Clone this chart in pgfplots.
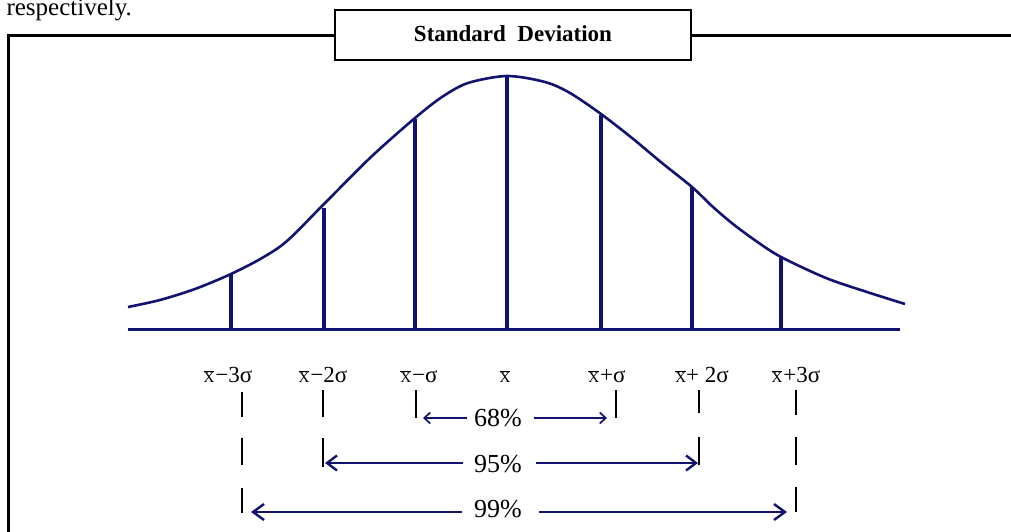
\documentclass[border=0pt]{standalone}
\usepackage{fontspec}
\setmainfont{Liberation Serif}
\usepackage{pgfplots}
\pgfplotsset{compat=1.18}
\usetikzlibrary{arrows.meta}
\definecolor{navyline}{RGB}{18,18,112}
% X-bar used in the tick labels
\newcommand{\xbar}{\ensuremath{\overline{\mbox{\fontsize{15}{15}\selectfont X}}}}
\newcommand{\lab}{\fontsize{23}{25}\selectfont}
\newcommand{\pct}{\fontsize{26}{28}\selectfont}
\begin{document}
\begin{tikzpicture}
\begin{axis}[
    width=1011pt, height=532pt, scale only axis,
    xmin=0, xmax=1011, ymin=0, ymax=532,
    y dir=reverse,
    hide axis, clip=false,
    unbounded coords=jump,
]
% outer frame
\addplot[black, line width=3pt] coordinates {(8,540) (8,36) (336,36)};
\addplot[black, line width=3pt] coordinates {(690,36) (1015,36)};
% title box
\addplot[black, line width=2.4pt, fill=white] coordinates {(335,10) (691,10) (691,60) (335,60)} --cycle;
\node[anchor=base, font=\fontsize{23}{25}\selectfont\bfseries] at (axis cs:513,41.5) {Standard\ \ Deviation};
\node[anchor=base west, font=\fontsize{25}{27}\selectfont] at (axis cs:3,16) {respectively.};

% normal curve
\addplot[navyline, line width=2.6pt, smooth, tension=0.5] coordinates {
(128,307) (160,300) (195,289) (231,274) (262,258) (287,241)
(324,204) (371,157) (415,118) (442,97) (468,83)
(507,76) (545,82) (570,93) (601,114) (632,138) (662,163) (692,187)
(713,207) (733,224) (756,241) (781,257) (826,278) (867,292) (905,304)
};
% base line
\addplot[navyline, line width=3pt] coordinates {(128,329) (900,329)};
% ordinates
\addplot[navyline, line width=3.4pt] coordinates {(231,329) (231,274)};
\addplot[navyline, line width=3.4pt] coordinates {(324,329) (324,208)};
\addplot[navyline, line width=3.4pt] coordinates {(415,329) (415,119)};
\addplot[navyline, line width=3.4pt] coordinates {(507,329) (507,77)};
\addplot[navyline, line width=3.4pt] coordinates {(601,329) (601,115)};
\addplot[navyline, line width=3.4pt] coordinates {(692,329) (692,187)};
\addplot[navyline, line width=3.4pt] coordinates {(781,329) (781,258)};

% labels under the axis
\node[anchor=base, font=\lab] at (axis cs:228,382) {\xbar\kern1pt−3σ};
\node[anchor=base, font=\lab] at (axis cs:323,382) {\xbar\kern1pt−2σ};
\node[anchor=base, font=\lab] at (axis cs:419,382) {\xbar\kern1pt−σ};
\node[anchor=base, font=\lab] at (axis cs:505,382) {\xbar};
\node[anchor=base, font=\lab] at (axis cs:607,382) {\xbar\kern1pt+σ};
\node[anchor=base, font=\lab] at (axis cs:702,382) {\xbar+ 2σ};
\node[anchor=base, font=\lab] at (axis cs:796,382) {\xbar\kern1pt+3σ};

% dashed markers
\addplot[black, line width=2.8pt] coordinates {
(242,392) (242,417) (242,nan) (242,438) (242,465) (242,nan) (242,488) (242,513)};
\addplot[black, line width=2.8pt] coordinates {
(323,390) (323,417) (323,nan) (323,438) (323,467)};
\addplot[black, line width=2.8pt] coordinates {(416,390) (416,418)};
\addplot[black, line width=2.8pt] coordinates {(616,390) (616,418)};
\addplot[black, line width=2.8pt] coordinates {
(699,390) (699,413) (699,nan) (699,437) (699,465)};
\addplot[black, line width=2.8pt] coordinates {
(796,390) (796,415) (796,nan) (796,437) (796,465) (796,nan) (796,487) (796,512)};

% 68 %
\addplot[navyline, line width=1.7pt, -{Straight Barb[length=6pt,width=11pt]}] coordinates {(467,418) (423,418)};
\addplot[navyline, line width=1.7pt, -{Straight Barb[length=6pt,width=11pt]}] coordinates {(534,418) (607,418)};
\node[anchor=base, font=\pct] at (axis cs:498,426.5) {68\%};
% 95 %
\addplot[navyline, line width=2.4pt, -{Straight Barb[length=10pt,width=15pt]}] coordinates {(463,463) (325,463)};
\addplot[navyline, line width=2.4pt, -{Straight Barb[length=10pt,width=15pt]}] coordinates {(536,463) (698,463)};
\node[anchor=base, font=\pct] at (axis cs:498,472.5) {95\%};
% 99 %
\addplot[navyline, line width=2.4pt, -{Straight Barb[length=11pt,width=16pt]}] coordinates {(462,512) (251,512)};
\addplot[navyline, line width=2.4pt, -{Straight Barb[length=11pt,width=16pt]}] coordinates {(539,512) (787,512)};
\node[anchor=base, font=\pct] at (axis cs:498,517.5) {99\%};
\end{axis}
\pgfresetboundingbox
\useasboundingbox (current axis.south west) rectangle (current axis.north east);
\end{tikzpicture}
\end{document}
